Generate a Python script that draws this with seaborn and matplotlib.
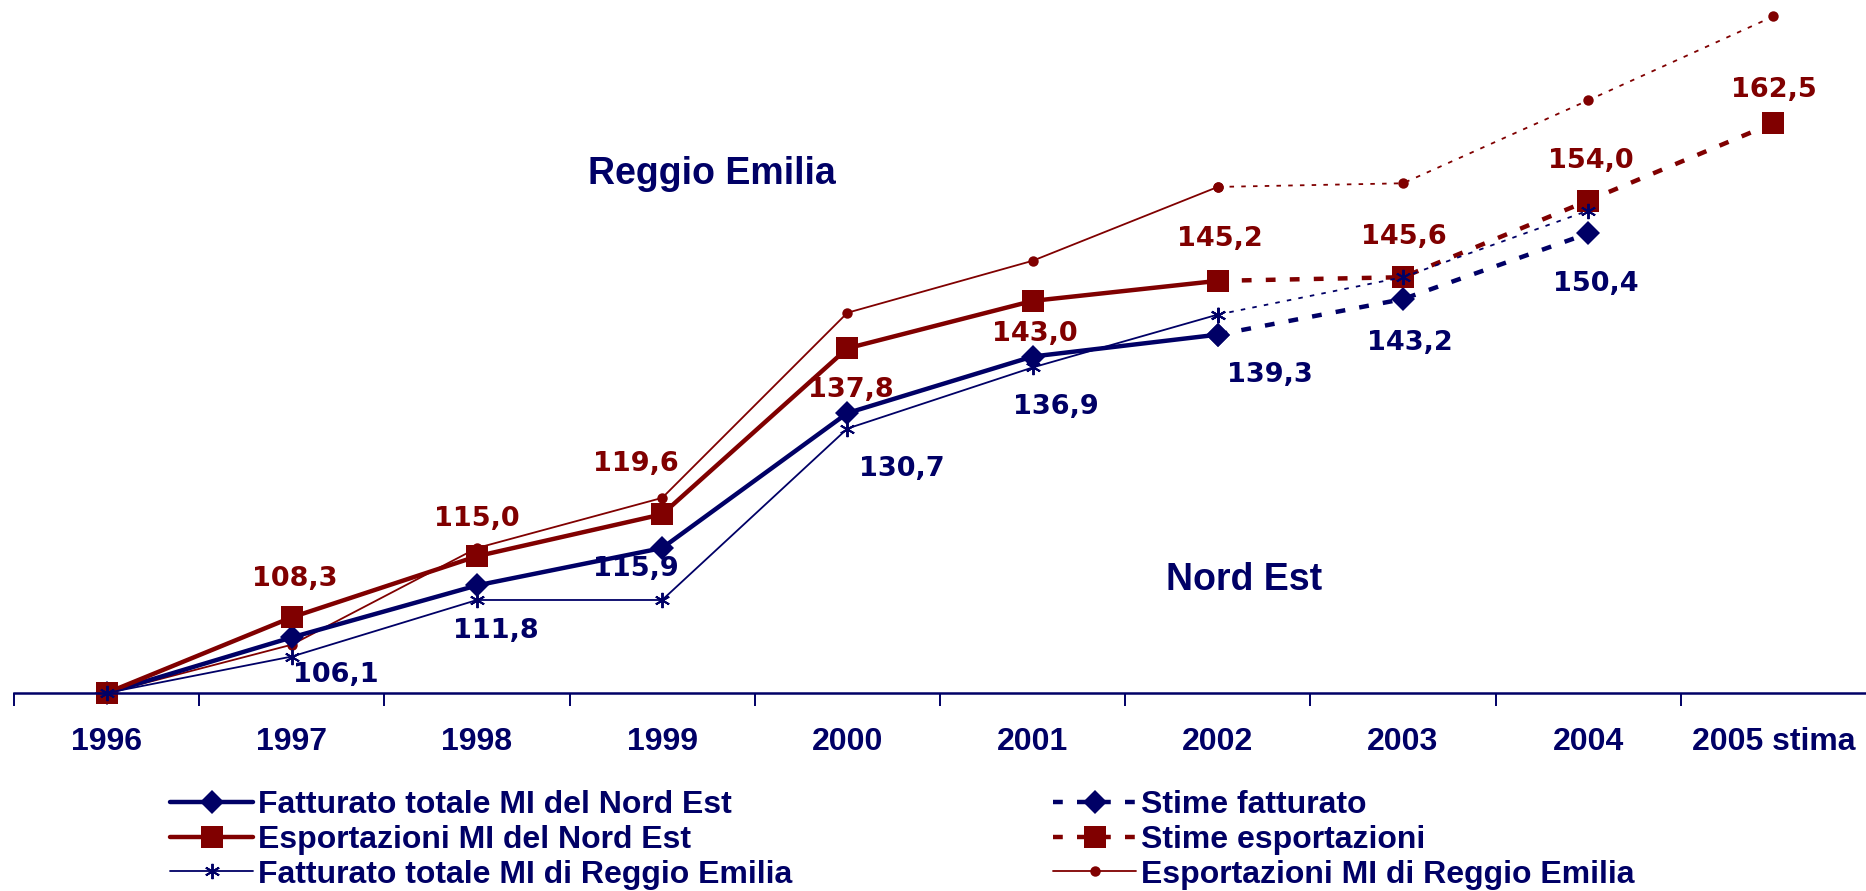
import matplotlib
matplotlib.use('Agg')
import matplotlib.pyplot as plt
import seaborn as sns
import pandas as pd
import numpy as np

# data (index 1996 = 100)
years = ['1996', '1997', '1998', '1999', '2000', '2001', '2002', '2003', '2004', '2005 stima']
fatt_ne = [100.0, 106.1, 111.8, 115.9, 130.7, 136.9, 139.3]
stime_fatt = [139.3, 143.2, 150.4]
exp_ne = [100.0, 108.3, 115.0, 119.6, 137.8, 143.0, 145.2]
stime_exp = [145.2, 145.6, 154.0, 162.5]
fatt_re = [100.0, 104.0, 110.2, 110.2, 129.0, 135.7, 141.5]
fatt_re_est = [141.5, 145.6, 152.9]
exp_re = [100.0, 105.3, 115.9, 121.4, 141.7, 147.4, 155.5]
exp_re_est = [155.5, 155.9, 165.0, 174.2]

# label offsets in pixels (dx, dy)
fatt_lbl_off = [(44, -38), (19, -46), (-26, -21), (54, -56), (23, -50), (52, -40)]
stime_fatt_lbl_off = [(7, -44), (8, -51)]
exp_lbl_off = [(3, 38), (0, 37), (-26, 50), (3, -42), (2, -33), (2, 42)]
stime_exp_lbl_off = [(1, 40), (3, 40), (0, 33)]

NAVY = '#000066'
RED = '#800000'

sns.set_style('white')
plt.rcParams['font.family'] = ['Liberation Sans', 'DejaVu Sans']

fig = plt.figure(figsize=(18.66, 8.91), dpi=100)
ax = fig.add_axes([14 / 1866, 1 - 693 / 891, 1 - 14 / 1866, 693 / 891])


def frame(vals, start=0):
    return pd.DataFrame({'x': np.arange(start, start + len(vals)), 'y': vals})


asterisk = (6, 2, 0)

# Reggio Emilia exports (thin, circles)
sns.lineplot(data=frame(exp_re), x='x', y='y', ax=ax, color=RED, lw=1.3,
             marker='o', markersize=7.5, markeredgewidth=0, clip_on=False,
             label='Esportazioni MI di Reggio Emilia')
sns.lineplot(data=frame(exp_re_est, 6), x='x', y='y', ax=ax, color=RED, lw=1.3,
             ls=(0, (2.5, 4)), marker='o', markersize=7.5, markeredgewidth=0,
             clip_on=False)

# Nord Est turnover (thick, diamonds)
sns.lineplot(data=frame(fatt_ne), x='x', y='y', ax=ax, color=NAVY, lw=3.2,
             marker='D', markersize=12.5, markeredgewidth=0, clip_on=False,
             label='Fatturato totale MI del Nord Est')
sns.lineplot(data=frame(stime_fatt, 6), x='x', y='y', ax=ax, color=NAVY, lw=3.2,
             ls=(0, (2.2, 3.2)), marker='D', markersize=12.5, markeredgewidth=0,
             clip_on=False, label='Stime fatturato')

# Nord Est exports (thick, squares)
sns.lineplot(data=frame(exp_ne), x='x', y='y', ax=ax, color=RED, lw=3.2,
             marker='s', markersize=16.5, markeredgewidth=0, clip_on=False,
             label='Esportazioni MI del Nord Est')
sns.lineplot(data=frame(stime_exp, 6), x='x', y='y', ax=ax, color=RED, lw=3.2,
             ls=(0, (2.2, 3.2)), marker='s', markersize=16.5, markeredgewidth=0,
             clip_on=False, label='Stime esportazioni')

# Reggio Emilia turnover (thin, asterisks)
sns.lineplot(data=frame(fatt_re), x='x', y='y', ax=ax, color=NAVY, lw=1.3,
             marker=asterisk, markersize=11, markeredgewidth=1.4, markeredgecolor=NAVY,
             clip_on=False, label='Fatturato totale MI di Reggio Emilia')
sns.lineplot(data=frame(fatt_re_est, 6), x='x', y='y', ax=ax, color=NAVY, lw=1.3,
             ls=(0, (2.5, 4)), marker=asterisk, markersize=11, markeredgewidth=1.4,
             markeredgecolor=NAVY, clip_on=False)

# data labels
lbl_kw = dict(textcoords='offset pixels', ha='center', va='center',
              fontsize=19.5, fontweight='bold', family='DejaVu Sans')
for i, (v, off) in enumerate(zip(fatt_ne[1:], fatt_lbl_off)):
    ax.annotate(f'{v:.1f}'.replace('.', ','), (i + 1, v), xytext=off, color=NAVY, **lbl_kw)
for i, (v, off) in enumerate(zip(stime_fatt[1:], stime_fatt_lbl_off)):
    ax.annotate(f'{v:.1f}'.replace('.', ','), (i + 7, v), xytext=off, color=NAVY, **lbl_kw)
for i, (v, off) in enumerate(zip(exp_ne[1:], exp_lbl_off)):
    ax.annotate(f'{v:.1f}'.replace('.', ','), (i + 1, v), xytext=off, color=RED, **lbl_kw)
for i, (v, off) in enumerate(zip(stime_exp[1:], stime_exp_lbl_off)):
    ax.annotate(f'{v:.1f}'.replace('.', ','), (i + 7, v), xytext=off, color=RED, **lbl_kw)

ax.text(3.27, 156.9, 'Reggio Emilia', color=NAVY, fontsize=27, fontweight='bold',
        ha='center', va='center')
ax.text(6.14, 112.4, 'Nord Est', color=NAVY, fontsize=27, fontweight='bold',
        ha='center', va='center')

ax.set_xlim(-0.5, 9.5)
ax.set_ylim(100, 176.0)
ax.set_xlabel('')
ax.set_ylabel('')
ax.set_yticks([])
ax.set_xticks(range(len(years)))
ax.set_xticklabels(years, fontsize=23, fontweight='bold', color=NAVY)
ax.set_xticks(np.arange(-0.5, 9.5, 1), minor=True)
ax.tick_params(axis='x', which='major', bottom=True, length=0, pad=24.5)
ax.tick_params(axis='x', which='minor', bottom=True, length=9, width=1.4,
               color=NAVY, direction='out')
for side in ['top', 'right', 'left']:
    ax.spines[side].set_visible(False)
ax.spines['bottom'].set_color(NAVY)
ax.spines['bottom'].set_linewidth(1.8)

# legends in two columns
handles, labels = ax.get_legend_handles_labels()
lookup = dict(zip(labels, handles))
ax.get_legend().remove()
col1 = ['Fatturato totale MI del Nord Est', 'Esportazioni MI del Nord Est',
        'Fatturato totale MI di Reggio Emilia']
col2 = ['Stime fatturato', 'Stime esportazioni', 'Esportazioni MI di Reggio Emilia']
leg_kw = dict(loc='upper left', frameon=False, borderpad=0, borderaxespad=0,
              handlelength=2.6, handletextpad=0.15, labelspacing=0.15, labelcolor=NAVY,
              prop={'family': 'Liberation Sans', 'weight': 'bold', 'size': 23})
fig.legend([lookup[l] for l in col1], col1, bbox_to_anchor=(170 / 1866, 1 - 790 / 891), **leg_kw)
fig.legend([lookup[l] for l in col2], col2, bbox_to_anchor=(1053 / 1866, 1 - 790 / 891), **leg_kw)

plt.savefig('out.png', dpi=100)
plt.close()
